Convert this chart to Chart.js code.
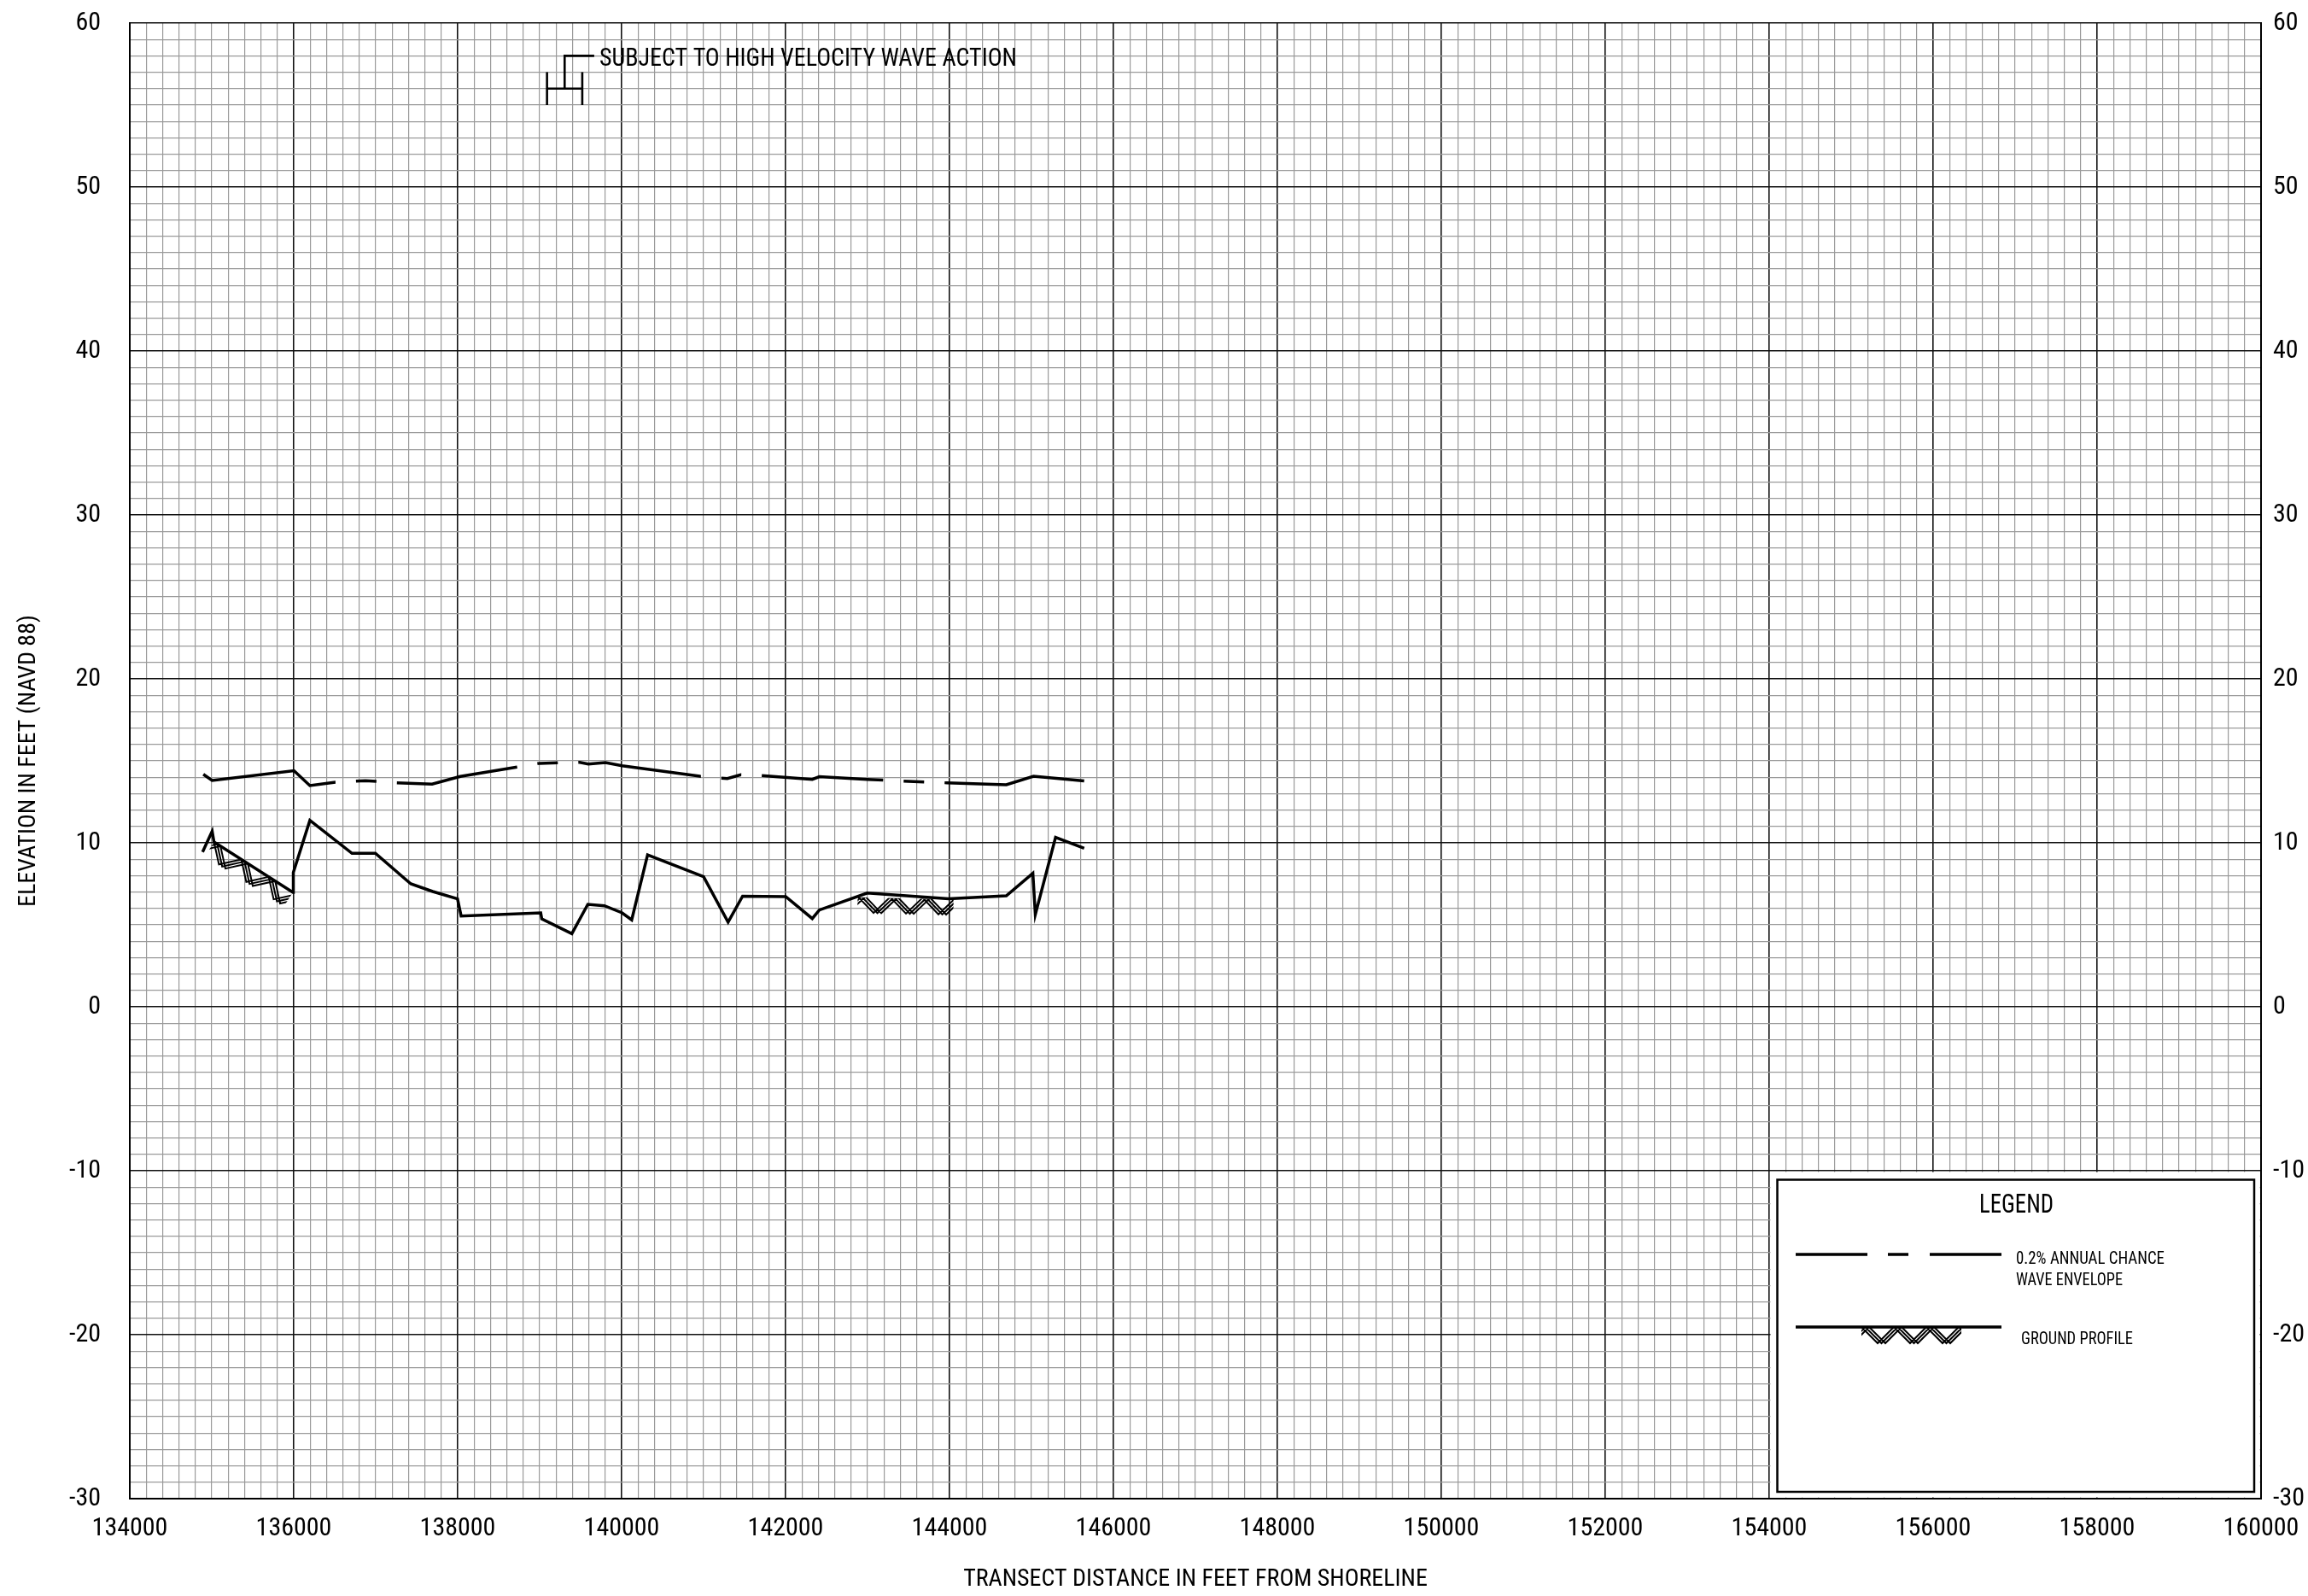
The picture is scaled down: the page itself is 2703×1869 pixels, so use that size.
<html><head>
<meta charset="utf-8">
<style>
body { margin: 0; background: #fff; }
#wrap { width: 2703px; height: 1869px; }
</style>
</head>
<body>
<script src="https://cdn.jsdelivr.net/npm/chart.js@4.4.1/dist/chart.umd.min.js"></script>
<div id="wrap"><canvas id="myChart"></canvas></div>
<script>
// 0.2% annual chance wave envelope
envX = [134897, 135005, 136003, 136197, 136508, 136875, 137255, 137688, 138032, 138724, 139000, 139490, 139594, 139802, 140006, 140956, 141290, 141454, 141708, 142326, 142412, 142996, 143500, 143968, 144693, 145025, 145643];
envY = [14.18, 13.80, 14.40, 13.49, 13.70, 13.79, 13.66, 13.58, 14.05, 14.62, 14.85, 14.91, 14.81, 14.89, 14.70, 14.06, 13.92, 14.15, 14.10, 13.87, 14.03, 13.87, 13.75, 13.66, 13.54, 14.06, 13.77];

// ground profile
gndX = [134888, 135005, 135027, 135990, 135995, 136197, 136711, 136996, 137428, 137696, 137998, 138042, 139013, 139026, 139393, 139588, 139790, 140006, 140123, 140317, 141000, 141299, 141476, 142002, 142326, 142412, 142996, 143989, 144693, 145017, 145047, 145294, 145643];
gndY = [9.44, 10.71, 10.05, 6.98, 8.19, 11.37, 9.36, 9.36, 7.50, 7.03, 6.58, 5.54, 5.73, 5.36, 4.46, 6.25, 6.16, 5.73, 5.30, 9.27, 7.93, 5.16, 6.75, 6.72, 5.38, 5.90, 6.94, 6.59, 6.77, 8.14, 5.63, 10.33, 9.67];

// stretches of ground drawn with the hatch symbol
hatchFrom = [135027, 142880];
hatchTo   = [135990, 144050];

// VE zone marker
veZone = [139090, 139520];
veElev = 56;
veLabel = 'SUBJECT TO HIGH VELOCITY WAVE ACTION';

// axes
xMin = 134000; xMax = 160000; xMajor = 2000; xMinor = 200;
yMin = -30; yMax = 60; yMajor = 10; yMinor = 1;
legendFrom = [154000, -10];   // legend panel corner (x, elevation)
legendTitle = 'LEGEND';
legendEnv = ['0.2% ANNUAL CHANCE', 'WAVE ENVELOPE'];
legendGnd = 'GROUND PROFILE';

FONT = '"Roboto Condensed", "DejaVu Sans Condensed", sans-serif';
Chart.defaults.font.family = FONT;
Chart.defaults.color = '#000';

function pts(xs, ys) {
  return xs.map((x, i) => ({x: x, y: ys[i]}));
}
function gndAt(x) {
  for (let i = 0; i < gndX.length - 1; i++) {
    if (x >= gndX[i] && x <= gndX[i+1]) {
      const t = (x - gndX[i]) / (gndX[i+1] - gndX[i]);
      return gndY[i] + t * (gndY[i+1] - gndY[i]);
    }
  }
  return gndY[gndY.length - 1];
}
function isMajor(v, step) {
  return Math.abs(Math.round(v / step) * step - v) < 1e-6;
}

// zigzag hatch hanging under the line from (x0,y0) to (x1,y1)
function hatch(ctx, x0, y0, x1, y1) {
  const len = Math.hypot(x1 - x0, y1 - y0);
  const ux = (x1 - x0) / len, uy = (y1 - y0) / len;
  const P = 38, A = 19;
  ctx.save();
  ctx.translate(x0, y0);
  ctx.transform(ux, uy, -uy, ux, 0, 0);
  ctx.beginPath();
  ctx.rect(0, 1, len, 21);
  ctx.clip();
  ctx.lineWidth = 2;
  ctx.beginPath();
  for (let k = 0; k < 3; k++) {
    const s = k * 4.5;
    let down = true;
    ctx.moveTo(s - P, 0);
    for (let u = s - P / 2; u <= len + P; u += P / 2) {
      ctx.lineTo(u, down ? A : 0);
      down = !down;
    }
  }
  ctx.stroke();
  ctx.restore();
}
// text squeezed to the width it takes in the original drawing
function text(ctx, t, x, y, size, w, align) {
  ctx.save();
  ctx.font = size + 'px ' + FONT;
  ctx.textBaseline = 'alphabetic';
  ctx.textAlign = align || 'left';
  const sx = Math.min(1, w / ctx.measureText(t).width);
  ctx.translate(x, y);
  ctx.scale(sx, 1);
  ctx.fillText(t, 0, 0);
  ctx.restore();
}

decor = {
  id: 'decor',
  afterDatasetsDraw(chart) {
    const ctx = chart.ctx, xs = chart.scales.x, ys = chart.scales.y;
    ctx.save();
    ctx.strokeStyle = '#000';
    ctx.fillStyle = '#000';
    for (let r = 0; r < hatchFrom.length; r++) {
      hatch(ctx, xs.getPixelForValue(hatchFrom[r]), ys.getPixelForValue(gndAt(hatchFrom[r])),
                 xs.getPixelForValue(hatchTo[r]), ys.getPixelForValue(gndAt(hatchTo[r])));
    }
    // VE marker
    const x0 = xs.getPixelForValue(veZone[0]), x1 = xs.getPixelForValue(veZone[1]);
    const xm = (x0 + x1) / 2;
    const yc = ys.getPixelForValue(veElev);
    const h = ys.getPixelForValue(veElev - 1) - yc;
    ctx.lineWidth = 2.6;
    ctx.beginPath();
    ctx.moveTo(x0, yc - h); ctx.lineTo(x0, yc + h);
    ctx.moveTo(x1, yc - h); ctx.lineTo(x1, yc + h);
    ctx.moveTo(x0, yc); ctx.lineTo(x1, yc);
    ctx.moveTo(xm, yc); ctx.lineTo(xm, yc - 2 * h); ctx.lineTo(x1 + 14, yc - 2 * h);
    ctx.stroke();
    text(ctx, veLabel, x1 + 20, yc - 2 * h + 12, 30, 489);
    ctx.restore();
  },
  afterDraw(chart) {
    const ctx = chart.ctx, xs = chart.scales.x, ys = chart.scales.y, area = chart.chartArea;
    const L = xs.getPixelForValue(legendFrom[0]), T = ys.getPixelForValue(legendFrom[1]);
    ctx.save();
    ctx.fillStyle = '#fff';
    ctx.fillRect(L + 1.5, T + 1.5, area.right - L - 3, area.bottom - T - 3);
    const bx = L + 9.5, by = T + 10.5;
    ctx.strokeStyle = '#000';
    ctx.lineWidth = 2.5;
    ctx.strokeRect(bx, by, area.right - 8 - bx, area.bottom - 8 - by);
    ctx.fillStyle = '#000';
    text(ctx, legendTitle, bx + 280, by + 38.5, 32, 87, 'center');
    ctx.lineWidth = 3.5;
    ctx.setLineDash([84, 24, 24, 25]);
    ctx.beginPath();
    ctx.moveTo(bx + 21.5, by + 87.5); ctx.lineTo(bx + 262.5, by + 87.5);
    ctx.stroke();
    ctx.setLineDash([]);
    text(ctx, legendEnv[0], bx + 279.5, by + 98.5, 21, 174);
    text(ctx, legendEnv[1], bx + 279.5, by + 123.5, 21, 125);
    ctx.beginPath();
    ctx.moveTo(bx + 21.5, by + 172.5); ctx.lineTo(bx + 262.5, by + 172.5);
    ctx.stroke();
    hatch(ctx, bx + 98.5, by + 172.5, bx + 215.5, by + 172.5);
    text(ctx, legendGnd, bx + 285.5, by + 192.5, 21, 131);
    ctx.restore();
  }
};

function noPad(s) {
  s.paddingTop = 0; s.paddingBottom = 0; s.paddingLeft = 0; s.paddingRight = 0;
}

ctx = document.getElementById('myChart').getContext('2d');
myChart = new Chart(ctx, {
  type: 'line',
  data: {
    datasets: [{
      label: legendEnv.join(' '),
      data: pts(envX, envY),
      borderColor: '#000',
      borderWidth: 3.5,
      // long / gap / short / gap, as laid along the drawn envelope
      borderDash: [165, 24, 24, 24, 143, 24, 24, 24, 145, 24, 24, 24, 143, 24, 24, 24, 400],
      pointRadius: 0,
      tension: 0
    }, {
      label: legendGnd,
      data: pts(gndX, gndY),
      borderColor: '#000',
      borderWidth: 3.5,
      pointRadius: 0,
      tension: 0
    }]
  },
  options: {
    responsive: true,
    maintainAspectRatio: false,
    animation: false,
    layout: { padding: { top: 27, left: 0, right: 0, bottom: 0 } },
    plugins: { legend: { display: false }, tooltip: { enabled: false } },
    scales: {
      x: {
        type: 'linear', min: xMin, max: xMax,
        afterFit: s => { s.height = 114; noPad(s); },
        ticks: {
          stepSize: xMinor, autoSkip: false, maxRotation: 0, minRotation: 0,
          padding: 17, font: { size: 30 },
          callback: v => isMajor(v, xMajor) ? String(Math.round(v)) : ''
        },
        grid: {
          drawTicks: false,
          color: c => isMajor(c.tick.value, xMajor) ? '#111' : '#9a9a9a',
          lineWidth: c => isMajor(c.tick.value, xMajor) ? 1.6 : 1.2
        },
        border: { color: '#000', width: 2 },
        title: { display: true, text: 'TRANSECT DISTANCE IN FEET FROM SHORELINE', font: { size: 28 }, padding: { top: 0, bottom: 2 } }
      },
      y: {
        position: 'left', min: yMin, max: yMax,
        afterFit: s => { s.width = 152; noPad(s); },
        ticks: {
          stepSize: yMinor, autoSkip: false, padding: 34, font: { size: 30 },
          callback: v => isMajor(v, yMajor) ? String(Math.round(v)) : ''
        },
        grid: {
          drawTicks: false,
          color: c => isMajor(c.tick.value, yMajor) ? '#111' : '#9a9a9a',
          lineWidth: c => isMajor(c.tick.value, yMajor) ? 1.6 : 1.2
        },
        border: { color: '#000', width: 2 },
        title: { display: true, text: 'ELEVATION IN FEET (NAVD 88)', font: { size: 28 }, padding: { top: 17, bottom: 0 } }
      },
      y2: {
        position: 'right', min: yMin, max: yMax,
        afterFit: s => { s.width = 55; noPad(s); },
        ticks: {
          stepSize: yMajor, padding: 14, font: { size: 30 },
          callback: v => String(Math.round(v))
        },
        grid: { display: false, drawTicks: false },
        border: { color: '#000', width: 2 }
      }
    }
  },
  plugins: [decor]
});
</script>
</body>
</html>
